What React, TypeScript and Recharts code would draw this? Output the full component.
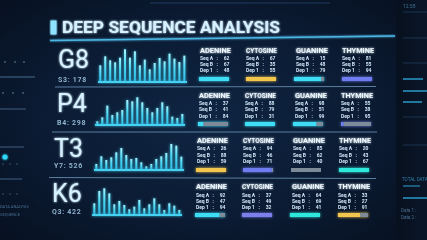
import React from 'react';
import { BarChart, Bar, XAxis, YAxis } from 'recharts';

// ---------- data ----------
const rowLabels = ['G8', 'P4', 'T3', 'K6'];
const rowCodes = ['S3: 178', 'B4: 298', 'Y7: 526', 'Q3: 422'];
const g8Bars = [50, 77, 65, 59, 73, 98, 73, 92, 50, 67, 38, 57, 72, 62, 85, 70, 60, 79];
const p4Bars = [11, 23, 58, 30, 38, 45, 75, 71, 83, 68, 51, 38, 51, 68, 56, 25, 21, 33];
const t3Bars = [18, 41, 30, 38, 53, 66, 45, 33, 36, 23, 11, 18, 33, 41, 51, 78, 73, 40];
const k6Bars = [35, 72, 80, 65, 32, 42, 30, 17, 25, 45, 20, 32, 50, 32, 15, 35, 28, 15];
const bases = ['ADENINE', 'CYTOSINE', 'GUANINE', 'THYMINE'];
const statLabels = ['Seq A', 'Seq B', 'Dep 1'];
const g8Stats = [[62, 67, 48], [67, 35, 55], [15, 48, 79], [81, 55, 94]];
const p4Stats = [[37, 41, 84], [88, 79, 31], [98, 51, 99], [55, 38, 95]];
const t3Stats = [[26, 88, 59], [94, 46, 71], [85, 62, 40], [20, 43, 67]];
const k6Stats = [[92, 47, 94], [37, 49, 32], [64, 69, 41], [33, 27, 91]];
const g8Fill = [100, 100, 90, 100];
const p4Fill = [18, 100, 78, 9];
const t3Fill = [100, 96, 0, 100];
const k6Fill = [82, 100, 100, 74];
const titleText = 'DEEP SEQUENCE ANALYSIS';

// ---------- styles / layout ----------
const CYAN = '#3fdcf5';
const YEL = '#f2c64c';
const BLUE = '#6f7cf0';
const TEAL = '#2ee8dc';
const GREY = '#7d8a98';
const TXT = '#d6f1ff';

const rows = [
  { bars: g8Bars, stats: g8Stats, fill: g8Fill, colors: [CYAN, YEL, CYAN, BLUE], chartLeft: 97.5, chartW: 89, baseline: 82, labelX: 58, labelY: 68, codeX: 58, codeY: 82, statX: 200, headY: 53, lineY: [60, 66, 72], barY: 77 },
  { bars: p4Bars, stats: p4Stats, fill: p4Fill, colors: [CYAN, CYAN, CYAN, BLUE], chartLeft: 95.2, chartW: 90, baseline: 124.5, labelX: 57, labelY: 112, codeX: 57, codeY: 125, statX: 199, headY: 98, lineY: [105, 111, 118], barY: 122 },
  { bars: t3Bars, stats: t3Stats, fill: t3Fill, colors: [YEL, BLUE, GREY, TEAL], chartLeft: 93.5, chartW: 90, baseline: 169.5, labelX: 54, labelY: 157, codeX: 54, codeY: 168, statX: 197, headY: 143, lineY: [150, 157, 163], barY: 167.5 },
  { bars: k6Bars, stats: k6Stats, fill: k6Fill, colors: [CYAN, '#7b80ea', TEAL, YEL], chartLeft: 91.5, chartW: 90, baseline: 215, labelX: 52, labelY: 202, codeX: 52, codeY: 214, statX: 196, headY: 189, lineY: [197, 203, 209], barY: 213 },
];
const colOff = [0, 46, 96, 142];
const barOff = [-1, 46, 94, 142];
const headLen = [31, 31, 32, 32];

function Spark({ data, left, baseline, width }: { data: number[]; left: number; baseline: number; width: number }) {
  const d = data.map((v, i) => ({ i, v }));
  const plotH = 35;
  return (
    <div style={{ position: 'absolute', left, top: baseline - plotH, filter: 'drop-shadow(0 0 1.5px rgba(70,220,255,0.8))' }}>
      <BarChart width={width} height={plotH + 2} data={d} margin={{ top: 0, right: 0, bottom: 0, left: 0 }} barCategoryGap="26%">
        <YAxis hide domain={[0, 105]} />
        <XAxis dataKey="i" tick={false} tickLine={false} axisLine={{ stroke: '#45d2f2', strokeWidth: 1.8 }} height={2} />
        <Bar dataKey="v" fill="url(#sparkGrad)" isAnimationActive={false} />
      </BarChart>
    </div>
  );
}

function Prog({ value, color, left, top }: { value: number; color: string; left: number; top: number }) {
  const d = [{ k: 'p', v: value, r: 100 - value }];
  return (
    <div style={{ position: 'absolute', left, top, filter: value > 0 ? `drop-shadow(0 0 1.5px ${color})` : undefined }}>
      <BarChart layout="vertical" width={30} height={4} data={d} margin={{ top: 0, right: 0, bottom: 0, left: 0 }} barCategoryGap={0}>
        <XAxis type="number" hide domain={[0, 100]} />
        <YAxis type="category" dataKey="k" hide />
        <Bar dataKey="v" stackId="a" fill={color} isAnimationActive={false} />
        <Bar dataKey="r" stackId="a" fill={GREY} isAnimationActive={false} />
      </BarChart>
    </div>
  );
}

export default function App() {
  const font = 'Roboto, "DejaVu Sans", sans-serif';
  return (
    <div style={{ position: 'fixed', left: 0, top: 0, width: 427, height: 240, overflow: 'hidden', background: 'radial-gradient(ellipse 70% 75% at 48% 50%, #0f2542 0%, #0b1b33 55%, #060f1e 100%)' }}>
      <svg width={0} height={0} style={{ position: 'absolute' }}>
        <defs>
          <linearGradient id="sparkGrad" x1="0" y1="0" x2="0" y2="1">
            <stop offset="0" stopColor="#a6f4ff" />
            <stop offset="0.45" stopColor="#4cd9f4" />
            <stop offset="1" stopColor="#2cb8e4" />
          </linearGradient>
        </defs>
      </svg>

      {/* right side dark panel */}
      <div style={{ position: 'absolute', left: 396, top: 0, width: 31, height: 240, background: 'linear-gradient(90deg, #07101e, #0a1628)' }} />

      {rows.map((r, ri) => (
        <Spark key={'s' + ri} data={r.bars} left={r.chartLeft} baseline={r.baseline} width={r.chartW} />
      ))}
      {rows.map((r, ri) =>
        r.fill.map((f, ci) => (
          <Prog key={'p' + ri + ci} value={f} color={r.colors[ci]} left={r.statX + barOff[ci]} top={r.barY} />
        ))
      )}

      <svg width={427} height={240} style={{ position: 'absolute', left: 0, top: 0 }} fontFamily={font}>
        <defs>
          <filter id="glow" x="-20%" y="-40%" width="140%" height="180%">
            <feGaussianBlur stdDeviation="1.1" result="b" />
            <feMerge>
              <feMergeNode in="b" />
              <feMergeNode in="SourceGraphic" />
            </feMerge>
          </filter>
        </defs>

        {/* top faint line */}
        <line x1={150} y1={3} x2={330} y2={3} stroke="#1f3b5c" strokeWidth={1} />
        {/* title */}
        <rect x={50.5} y={20.5} width={6} height={14} fill="#8fe3ff" filter="url(#glow)" />
        <text x={62} y={33} fontSize={16.5} fontWeight={700} fill={TXT} textLength={218} lengthAdjust="spacingAndGlyphs" filter="url(#glow)">{titleText}</text>
        <line x1={50} y1={40.5} x2={395} y2={36} stroke="#4cb6e4" strokeWidth={1.4} filter="url(#glow)" />

        {/* row dividers */}
        <line x1={55} y1={87} x2={376} y2={86.5} stroke="#5a7fa0" strokeWidth={1.2} />
        <line x1={52} y1={132} x2={377} y2={132} stroke="#5a7fa0" strokeWidth={1.2} />
        <line x1={49} y1={177.5} x2={376} y2={178.5} stroke="#5a7fa0" strokeWidth={1.2} />

        {rows.map((r, ri) => (
          <g key={'t' + ri}>
            <text x={r.labelX} y={r.labelY} fontSize={25} fontWeight={400} fill={TXT} filter="url(#glow)">{rowLabels[ri]}</text>
            <text x={r.codeX} y={r.codeY} fontSize={7} fontWeight={700} fill="#8fb2cc" letterSpacing={0.7}>{rowCodes[ri]}</text>
            {bases.map((b, ci) => (
              <g key={b}>
                <text x={r.statX + colOff[ci]} y={r.headY} fontSize={7.2} fontWeight={700} fill="#eef9ff" textLength={headLen[ci]} lengthAdjust="spacingAndGlyphs" filter="url(#glow)">{b}</text>
                {statLabels.map((s, si) => (
                  <g key={s}>
                    <text x={r.statX + colOff[ci]} y={r.lineY[si]} fontSize={5} fontWeight={700} fill="#cfe6f7">{s}</text>
                    <text x={r.statX + colOff[ci] + 16.5} y={r.lineY[si]} fontSize={5} fontWeight={700} fill="#cfe6f7">:</text>
                    <text x={r.statX + colOff[ci] + 29.5} y={r.lineY[si]} fontSize={5} fontWeight={700} fill="#cfe6f7" textAnchor="end">{r.stats[ci][si]}</text>
                  </g>
                ))}
              </g>
            ))}
          </g>
        ))}

        {/* left side decorations */}
        <line x1={0} y1={41} x2={34} y2={41} stroke="#3aa4d6" strokeWidth={1.6} filter="url(#glow)" />
        {[5, 15, 24].map((x) => <circle key={'d1' + x} cx={x} cy={62} r={0.9} fill="#4a6482" />)}
        <line x1={0} y1={77} x2={35} y2={77} stroke="#35506e" strokeWidth={1.4} />
        {[3, 13, 23].map((x) => <circle key={'d2' + x} cx={x} cy={93} r={0.9} fill="#4a6482" />)}
        <line x1={0} y1={109} x2={26} y2={109} stroke="#35506e" strokeWidth={1.3} />
        <line x1={0} y1={128} x2={28} y2={128} stroke="#d9a838" strokeWidth={1.6} filter="url(#glow)" />
        <line x1={0} y1={147} x2={24} y2={147} stroke="#35506e" strokeWidth={1.3} />
        <circle cx={5} cy={157} r={2.6} fill="#2fd6f5" filter="url(#glow)" />
        {[3, 10, 17].map((x) => <circle key={'d3' + x} cx={x} cy={164} r={0.8} fill="#3d5878" />)}
        <line x1={0} y1={179} x2={22} y2={179} stroke="#35506e" strokeWidth={1.3} />
        {[3, 10, 17].map((x) => <circle key={'d4' + x} cx={x} cy={194} r={0.8} fill="#3d5878" />)}
        <text x={0} y={208} fontSize={4} fill="#4a6f90">DATA ANALYSIS</text>
        <text x={0} y={216} fontSize={4} fill="#4a6f90">SEQUENCE</text>

        {/* right side decorations */}
        <text x={403} y={8} fontSize={5} fill="#3f6f92">12:58</text>
        <line x1={403} y1={12} x2={427} y2={12} stroke="#1d3550" strokeWidth={1} />
        <line x1={403} y1={38} x2={427} y2={38} stroke="#1d3550" strokeWidth={1} />
        <line x1={403} y1={63} x2={427} y2={63} stroke="#1d3550" strokeWidth={1} />
        <line x1={403} y1={79} x2={423} y2={79} stroke="#2a9bc9" strokeWidth={1.5} />
        <line x1={403} y1={91} x2={427} y2={91} stroke="#2a9bc9" strokeWidth={1.5} />
        <line x1={403} y1={102} x2={422} y2={102} stroke="#2a9bc9" strokeWidth={1.5} />
        <line x1={403} y1={117} x2={427} y2={117} stroke="#1d3550" strokeWidth={1} />
        <line x1={403} y1={145} x2={427} y2={145} stroke="#1d3550" strokeWidth={1} />
        <text x={402} y={181} fontSize={4.5} fill="#2f7fa8">TOTAL DATA</text>
        <line x1={403} y1={186} x2={420} y2={186} stroke="#2a8ab8" strokeWidth={1.2} />
        <line x1={403} y1={198} x2={427} y2={198} stroke="#2a9bc9" strokeWidth={1.5} />
        <text x={401} y={212} fontSize={4.5} fill="#4a6f90">Data 1 :</text>
        <text x={401} y={219} fontSize={4.5} fill="#4a6f90">Data 2 :</text>
      </svg>
    </div>
  );
}
